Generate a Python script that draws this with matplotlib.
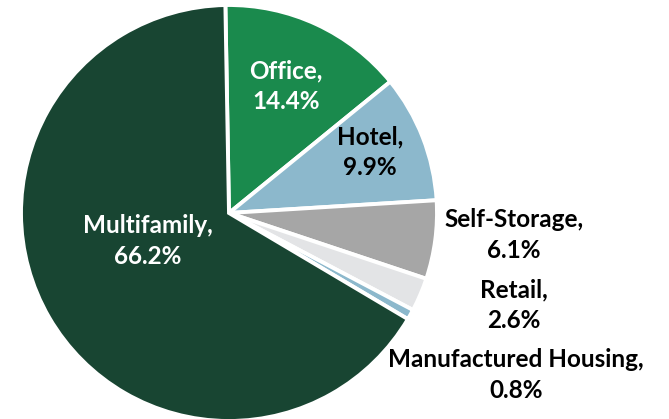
import matplotlib
matplotlib.use("Agg")
import matplotlib.pyplot as plt

# CRE loan mix by property type (%)
categories = ["Office", "Hotel", "Self-Storage", "Retail",
              "Manufactured Housing", "Multifamily"]
shares = [14.4, 9.9, 6.1, 2.6, 0.8, 66.2]
colors = ["#1a8a4d", "#8cb8cc", "#a6a6a6", "#e3e4e6", "#8cb8cc", "#184532"]
text_colors = ["white", "black", "black", "black", "black", "white"]

W, H = 669, 419
# label anchors in pixel coords (x, y from top)
label_pos = [(286, 86), (370, 152), (514, 235), (514, 305), (516, 375), (148, 241)]

fig = plt.figure(figsize=(W / 100, H / 100), dpi=100)
cx, cy, r = 229, 213, 208
ax = fig.add_axes([(cx - r) / W, (H - cy - r) / H, 2 * r / W, 2 * r / H])
ax.pie(shares, colors=colors, startangle=91, counterclock=False,
       wedgeprops=dict(edgecolor="white", linewidth=2.8), radius=1.0)
ax.set_xlim(-1, 1)
ax.set_ylim(-1, 1)
ax.set_aspect("equal")
ax.axis("off")

for name, val, (px, py), tc in zip(categories, shares, label_pos, text_colors):
    fig.text(px / W, 1 - py / H, f"{name},\n{val:.1f}%", ha="center", va="center",
             color=tc, fontsize=17.5, fontweight="bold", family="Lato",
             linespacing=1.4)

fig.savefig("out.png", dpi=100)
